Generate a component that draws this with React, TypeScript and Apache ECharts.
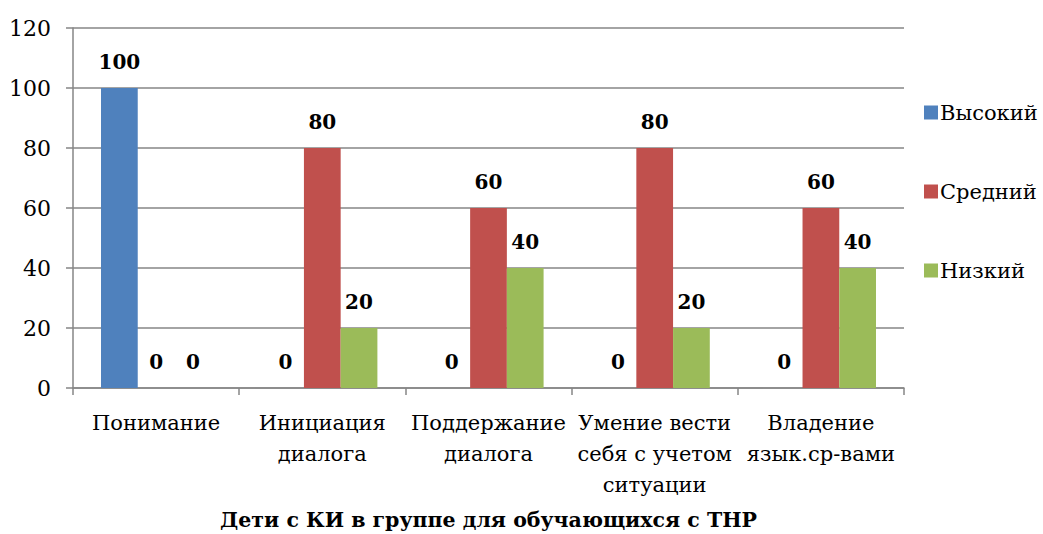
import React, { useEffect, useRef } from "react";
import * as echarts from "echarts";

const categories = [
  "Понимание",
  "Инициация\nдиалога",
  "Поддержание\nдиалога",
  "Умение вести\nсебя с учетом\nситуации",
  "Владение\nязык.ср-вами",
];
const seriesNames = ["Высокий", "Средний", "Низкий"];
const high = [100, 0, 0, 0, 0];
const medium = [0, 80, 60, 80, 60];
const low = [0, 20, 40, 20, 40];
const colors = ["#4F81BD", "#C0504D", "#9BBB59"];
const yTicks = { min: 0, max: 120, interval: 20 };
const axisTitle = "Дети с КИ в группе для обучающихся с ТНР";

const FONT = "DejaVu Serif";

export default function App() {
  const ref = useRef<HTMLDivElement>(null);
  useEffect(() => {
    if (!ref.current) return;
    const chart = echarts.init(ref.current, undefined, { renderer: "svg" });
    const values = [high, medium, low];
    chart.setOption({
      animation: false,
      textStyle: { fontFamily: FONT },
      grid: { left: 73, top: 28, right: 139, bottom: 146, containLabel: false, outerBoundsMode: "none" },
      legend: {
        orient: "vertical",
        left: 919,
        top: 97,
        itemGap: 58,
        itemWidth: 14,
        itemHeight: 14,
        icon: "rect",
        textStyle: { fontFamily: FONT, fontSize: 21, color: "#000", padding: [0, 0, 0, -3] },
        data: seriesNames,
      },
      xAxis: {
        type: "category",
        data: categories,
        name: axisTitle,
        nameLocation: "middle",
        nameGap: 121,
        nameTextStyle: { fontFamily: FONT, fontSize: 20.5, fontWeight: "bold", color: "#000" },
        axisLine: { lineStyle: { color: "#868686", width: 1.5 } },
        axisTick: { show: true, length: 7, lineStyle: { color: "#868686", width: 1.5 } },
        axisLabel: {
          fontFamily: FONT,
          fontSize: 21,
          color: "#000",
          margin: 19,
          lineHeight: 31,
          interval: 0,
        },
      },
      yAxis: {
        type: "value",
        min: yTicks.min,
        max: yTicks.max,
        interval: yTicks.interval,
        axisLine: { show: true, lineStyle: { color: "#868686", width: 1.5 } },
        axisTick: { show: true, length: 7, lineStyle: { color: "#868686", width: 1.5 } },
        splitLine: { show: true, lineStyle: { color: "#868686", width: 1.5 } },
        axisLabel: { fontFamily: FONT, fontSize: 22, color: "#000", margin: 22 },
      },
      series: seriesNames.map((name, i) => ({
        name,
        type: "bar",
        data: values[i],
        barGap: "0%",
        barCategoryGap: "33.7%",
        itemStyle: { color: colors[i] },
        label: {
          show: true,
          position: "top",
          distance: 16,
          fontFamily: FONT,
          fontSize: 20,
          fontWeight: "bold",
          color: "#000",
        },
      })),
    });
    return () => chart.dispose();
  }, []);
  return (
    <div
      ref={ref}
      style={{ position: "fixed", left: 0, top: 0, width: 1043, height: 534, background: "#fff" }}
    />
  );
}
